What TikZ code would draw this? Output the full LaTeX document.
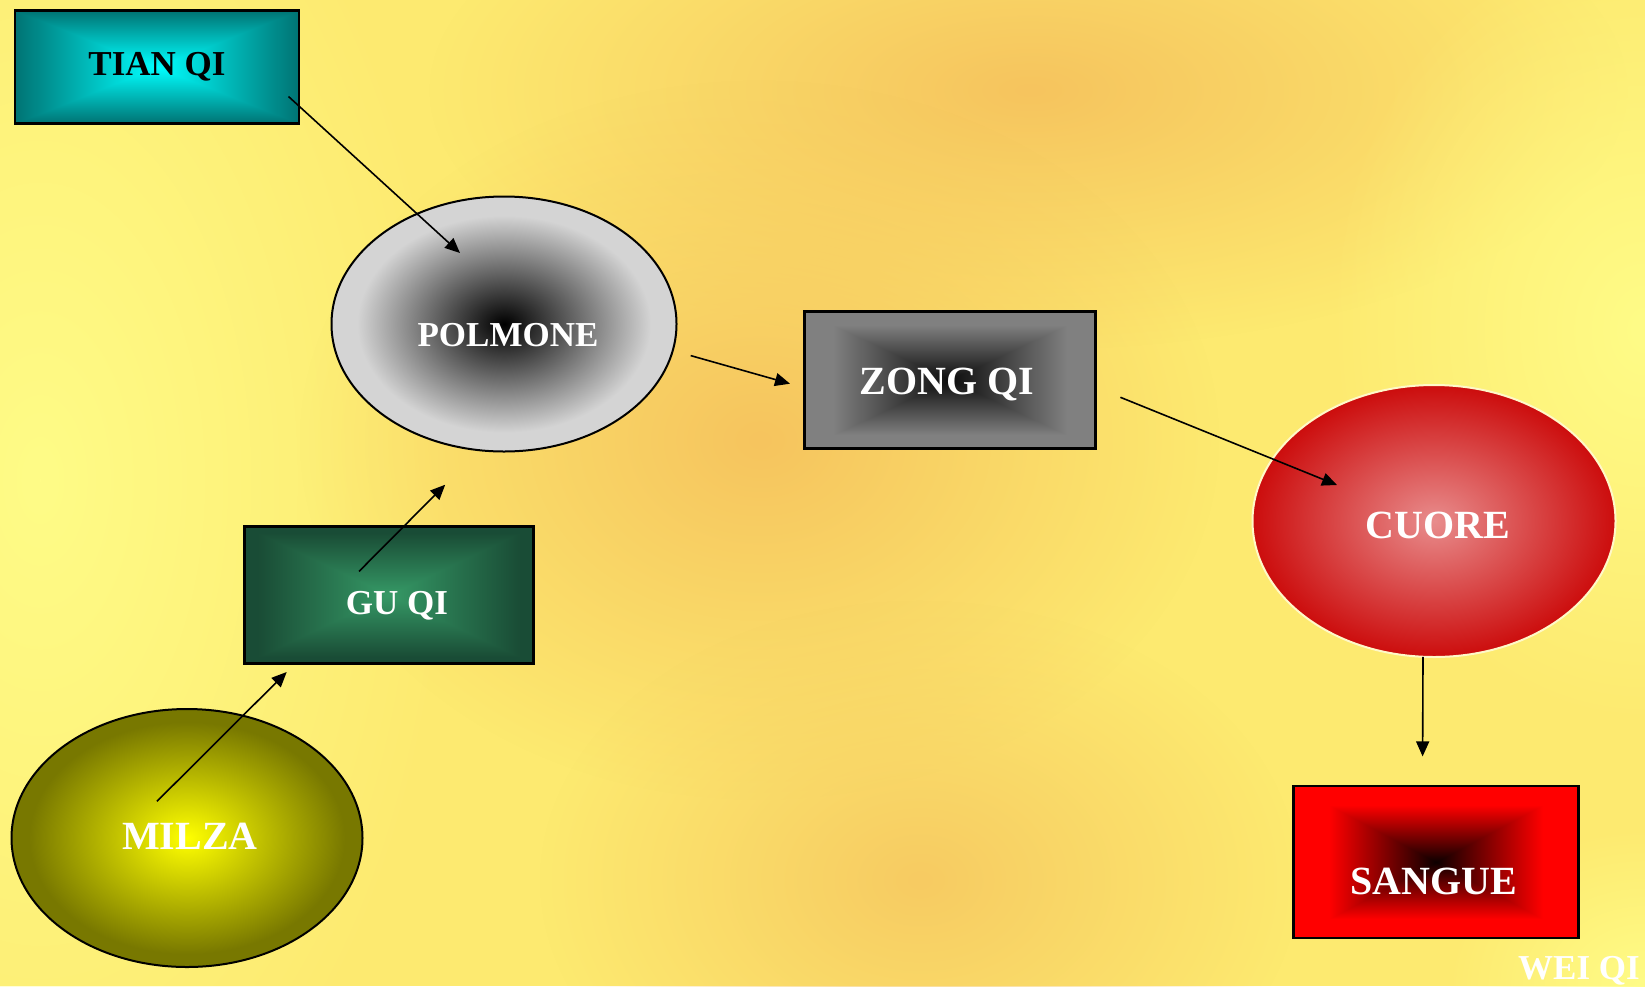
\documentclass[tikz,border=0pt]{standalone}
\usepackage{fontspec}
\setmainfont{Liberation Serif}
\usetikzlibrary{arrows.meta,positioning,calc,shapes.geometric,fadings}

% shading from the centre: #2 = distance, #3 = where the outer colour is reached,
% #4-#6 inner rgb, #7-#9 outer rgb
\newcommand\declshade[9]{%
  \pgfdeclarefunctionalshading{#1}{\pgfpoint{-50bp}{-50bp}}{\pgfpoint{50bp}{50bp}}{}{%
    #2 25 div #3 div dup 1 gt {pop 1} if
    dup dup #9 #6 sub mul #6 add 3 1 roll
    #8 #5 sub mul #5 add 3 1 roll
    #7 #4 sub mul #4 add 3 1 roll}}
\def\boxdist{abs exch abs 2 copy lt {exch} if pop}
\def\elldist{dup mul exch dup mul add sqrt}

\declshade{tianshade}{\boxdist}{1}{0}{1}{1}{0}{0.45}{0.45}
\declshade{zongshade}{\boxdist}{0.8}{0.05}{0.05}{0.05}{0.5}{0.5}{0.5}
\declshade{sangueshade}{\boxdist}{0.75}{0.05}{0}{0}{1}{0}{0}
\declshade{gushade}{\boxdist}{0.9}{0.21}{0.6}{0.4}{0.1}{0.3}{0.21}
\declshade{polmoneshade}{\elldist}{0.85}{0}{0}{0}{0.83}{0.83}{0.83}
\declshade{cuoreshade}{\elldist}{1}{0.91}{0.55}{0.55}{0.8}{0.05}{0.05}
\declshade{milzashade}{\elldist}{0.9}{1}{1}{0}{0.47}{0.47}{0}

\tikzfading[name=softblob, inner color=transparent!0, outer color=transparent!100]

\definecolor{bgyellow}{RGB}{253,234,112}
\definecolor{bglight}{RGB}{255,252,135}
\definecolor{bgorange}{RGB}{246,196,94}
\definecolor{cuoreline}{RGB}{255,248,200}

\begin{document}
\begin{tikzpicture}[x=1pt,y=-1pt]

  % --- styles ---
  \tikzset{
    % rectangles for the qi
    qibox/.style={
      draw=black,
      line width=2.2pt,
      shade,
      rectangle,
      inner sep=0pt
    },
    % ellipses for the organs
    organ/.style={
      draw=black,
      line width=2pt,
      shade,
      ellipse,
      inner sep=0pt
    },
    lbl/.style={text=white, font=\bfseries\fontsize{40}{44}\selectfont},
    smalllbl/.style={lbl, font=\bfseries\fontsize{35}{40}\selectfont},
    arr/.style={line width=1.6pt, -{Triangle[length=15pt,width=13pt]}}
  }

  % --- background ---
  \useasboundingbox (0,0) rectangle (1645,986);
  \fill[bgyellow] (0,0) rectangle (1645,986);
  \fill[bglight, path fading=softblob] (40,480) ellipse [x radius=420, y radius=760];
  \fill[bgorange, path fading=softblob] (1030,90) ellipse [x radius=600, y radius=260];
  \fill[bgorange, path fading=softblob] (760,440) ellipse [x radius=460, y radius=360];
  \fill[bgorange!80!bgyellow, path fading=softblob] (920,880) ellipse [x radius=380, y radius=280];
  \fill[bglight, path fading=softblob] (1645,330) ellipse [x radius=320, y radius=400];
  \fill[bglight, path fading=softblob] (1645,986) ellipse [x radius=200, y radius=160];

  % --- qi ---
  \node[qibox, shading=tianshade, minimum width=284, minimum height=113,
        label={[smalllbl, text=black]center:TIAN QI}] (tian) at (157,67) {};
  \node[qibox, shading=zongshade, minimum width=291, minimum height=137,
        label={[lbl, xshift=-3pt, yshift=-4pt]center:ZONG QI}] (zong) at (950,380) {};
  \node[qibox, shading=gushade, minimum width=289, minimum height=137,
        label={[smalllbl, xshift=8pt, yshift=-11pt]center:GU QI}] (guqi) at (389,595) {};
  \node[qibox, shading=sangueshade, minimum width=285, minimum height=152,
        label={[lbl, xshift=-2pt, yshift=-19pt]center:SANGUE}] (sangue) at (1436,862) {};

  % --- organs ---
  \node[organ, shading=polmoneshade, minimum width=345, minimum height=255,
        label={[smalllbl, xshift=4pt, yshift=-11pt]center:POLMONE}] (polmone) at (504,324) {};
  \node[organ, shading=cuoreshade, draw=cuoreline, minimum width=363, minimum height=272,
        label={[lbl, xshift=4pt, yshift=-4pt]center:CUORE}] (cuore) at (1434,521) {};
  \node[organ, shading=milzashade, minimum width=351, minimum height=258,
        label={[lbl, xshift=3pt, yshift=2pt]center:MILZA}] (milza) at (187,838) {};

  \node[lbl, font=\bfseries\fontsize{35}{40}\selectfont, anchor=base] (wei) at (1579,979) {WEI QI};

  % --- arrows ---
  \draw[arr] ($(tian.center)+(131.5,29.5)$) -- ($(polmone.center)+(-44,-71)$);
  \draw[arr] ($(polmone.center)+(186.7,31.6)$) -- ($(zong.center)+(-160,3.7)$);
  \draw[arr] ($(zong.center)+(170.4,17.3)$) -- ($(cuore.center)+(-97,-36)$);
  \draw[arr] ($(cuore.center)+(-11,135.8)$) -- ($(sangue.center)+(-13.4,-105.6)$);
  \draw[arr] ($(guqi.center)+(-30,-23.6)$) -- ($(polmone.center)+(-58.8,160.7)$);
  \draw[arr] ($(milza.center)+(-30,-36.7)$) -- ($(guqi.center)+(-102.3,77)$);

\end{tikzpicture}
\end{document}
